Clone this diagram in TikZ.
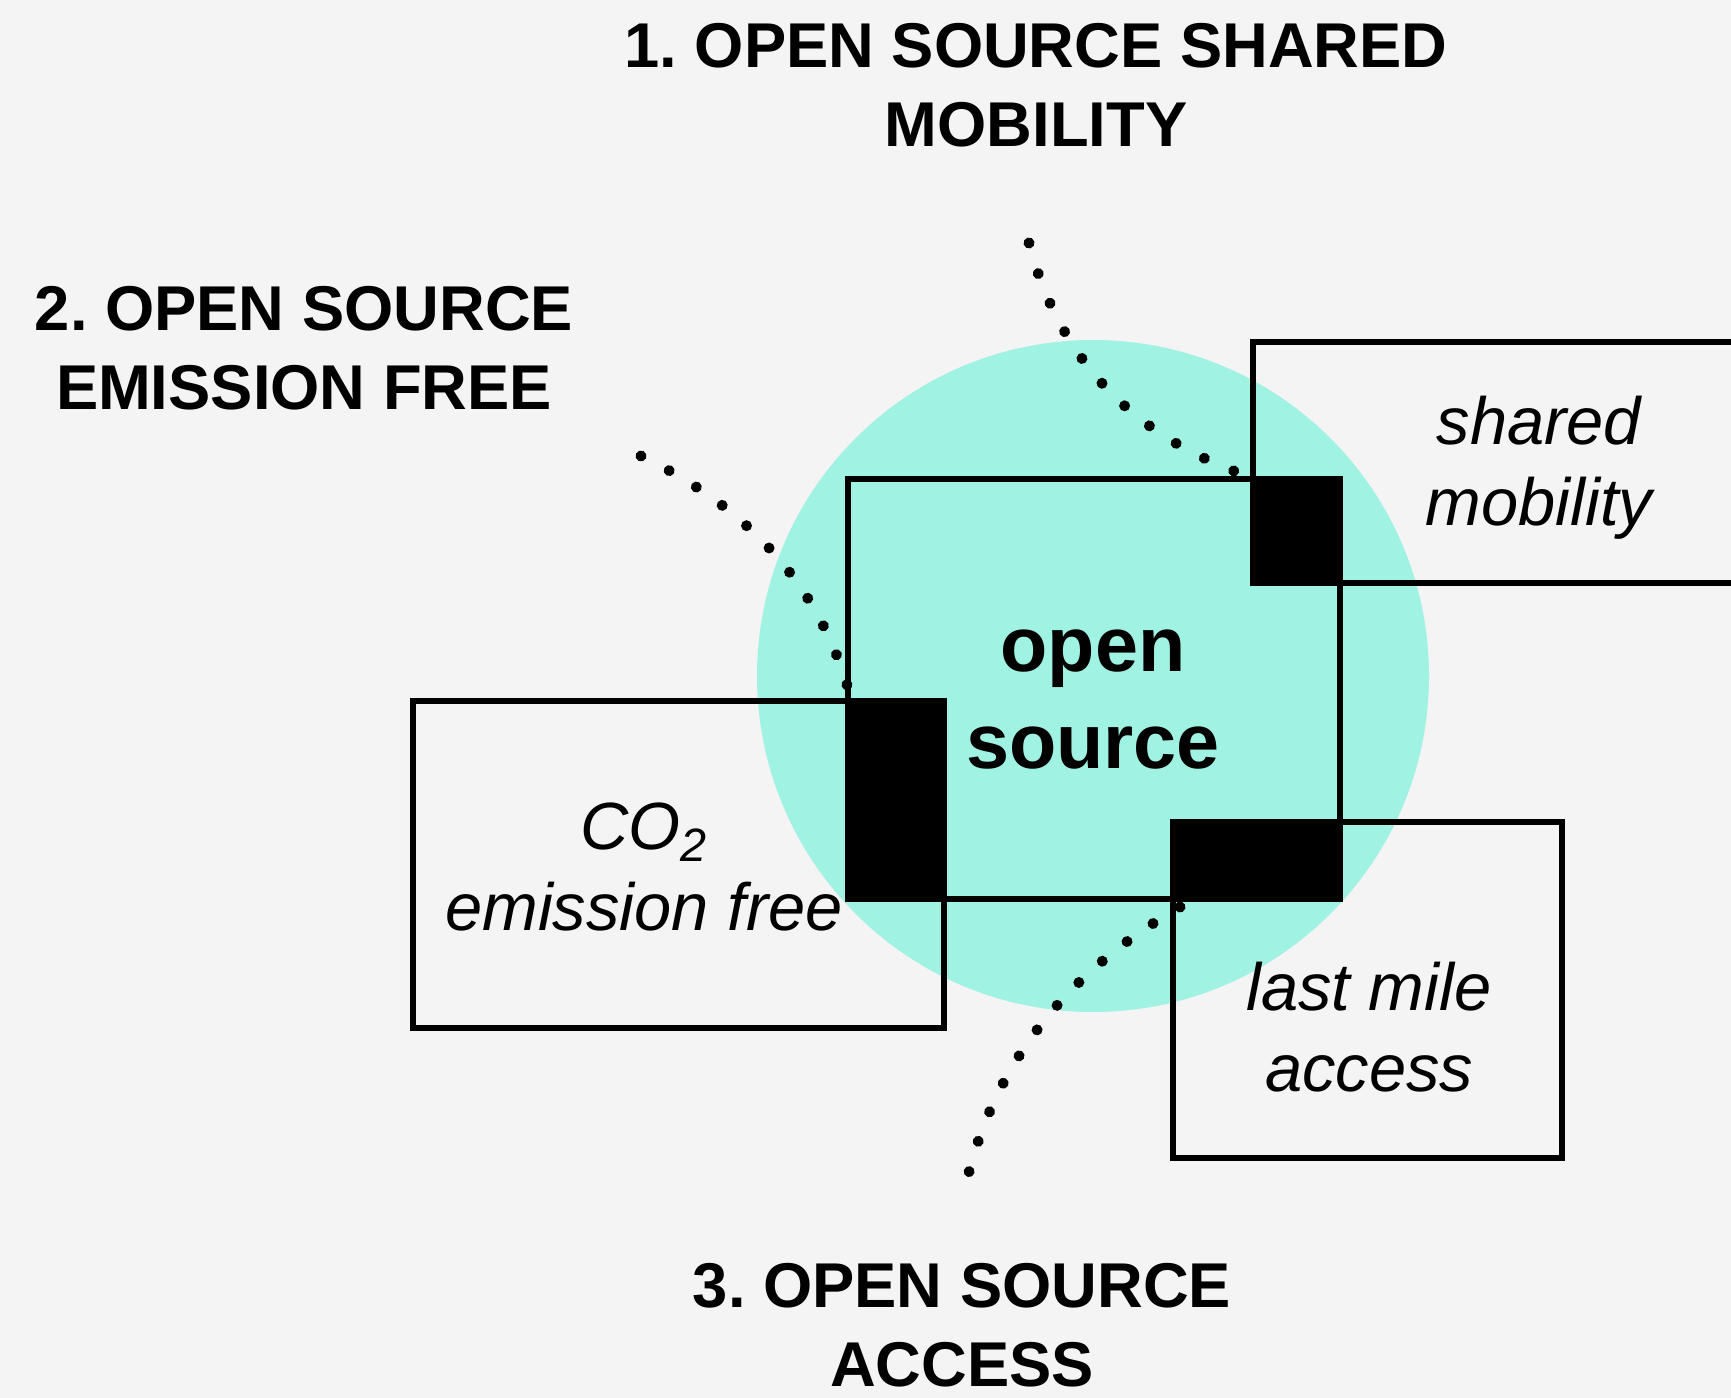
\documentclass[tikz,border=0pt]{standalone}
\usepackage{fontspec}
\setmainfont{Liberation Sans}
\usepackage{xcolor}
\usetikzlibrary{decorations.markings}
\definecolor{bggrey}{HTML}{F4F4F4}
\definecolor{mint}{HTML}{A0F2E2}
\frenchspacing

\begin{document}
\begin{tikzpicture}[x=0.01cm, y=-0.01cm,
    head/.style={font=\bfseries\fontsize{18}{22.4}\selectfont, align=center, inner sep=0pt},
    core/.style={font=\bfseries\fontsize{22}{27.5}\selectfont, align=center, inner sep=0pt},
    tag/.style={font=\itshape\fontsize{19}{23}\selectfont, align=center, inner sep=0pt},
    frame/.style={draw=black, line width=1.5pt},
    overlap/.style={fill=black, draw=black, line width=1.5pt},
    dotline/.style={decorate, decoration={markings,
        mark=between positions 0 and 1 step #1 with {\fill (0,0) circle[radius=5.5];}}}]

      % canvas
      \useasboundingbox (0,0) rectangle (1731,1398);
      \fill[bggrey] (0,0) rectangle (1731,1398);
      \fill[mint] (1093,676) circle[radius=336];

      % corners of square and boxes
      \coordinate (sq-nw) at (848,479);  \coordinate (sq-se) at (1340,899);
      \coordinate (sh-nw) at (1253,342); \coordinate (sh-se) at (1800,583);
      \coordinate (co-nw) at (413,701);  \coordinate (co-se) at (944,1028);
      \coordinate (lm-nw) at (1173,822); \coordinate (lm-se) at (1562,1158);

      % outlines
      \draw[frame] (sh-nw) rectangle (sh-se);
      \draw[frame] (co-nw) rectangle (co-se);
      \draw[frame] (lm-nw) rectangle (lm-se);
      \draw[frame] (sq-nw) rectangle (sq-se);

      % black overlaps
      \filldraw[overlap] (sh-nw |- sq-nw) rectangle (sq-se |- sh-se);
      \filldraw[overlap] (sq-nw |- co-nw) rectangle (co-se |- sq-se);
      \filldraw[overlap] (lm-nw) rectangle (sq-se);

      % dotted leads
      \coordinate (d1a) at (1029,243); \coordinate (d1b) at (1234,471);
      \coordinate (d2a) at (641,456);  \coordinate (d2b) at (847,685);
      \coordinate (d3a) at (1180,907); \coordinate (d3b) at (969,1172);
      \path[dotline=0.0999] (d1a) .. controls (1057.7,353.7) and (1126,429.7) .. (d1b);
      \path[dotline=0.0999] (d2a) .. controls (747.7,507.3) and (816.3,583.7) .. (d2b);
      \path[dotline=0.0908] (d3a) .. controls (1068.7,971) and (998.3,1059.3) .. (d3b);

      % labels
      \node[head] (title1) at (1036,85.5) {1. OPEN SOURCE SHARED\\MOBILITY};
      \node[head] (title2) at (304,348.5) {2. OPEN SOURCE\\EMISSION FREE};
      \node[head] (title3) at (962,1325.5) {3. OPEN SOURCE\\ACCESS};
      \node[core] (os) at (1093,699.5) {open\\source};
      \node[tag] (shared) at (1539,467.5) {shared\\mobility};
      \node[tag] (co2) at (644,867) {CO\textsubscript{2}\\emission free};
      \node[tag] (lastmile) at (1369,1027) {last mile\\access};
    \end{tikzpicture}
\end{document}
